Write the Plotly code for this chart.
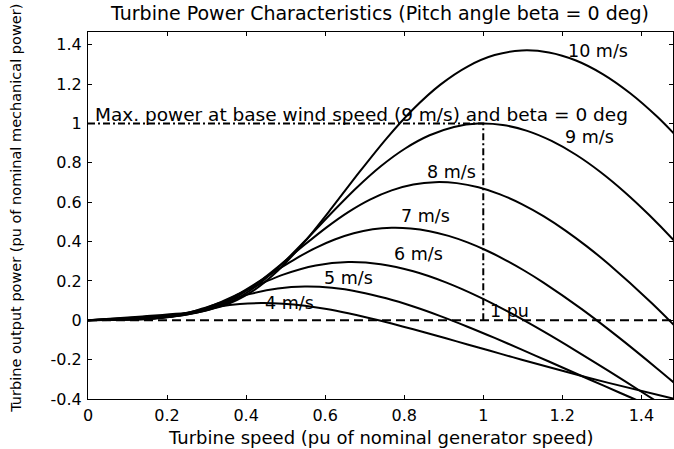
import plotly.graph_objects as go

# ---- data ----
wind_labels = ["10 m/s", "9 m/s", "8 m/s", "7 m/s", "6 m/s", "5 m/s", "4 m/s"]

speed_10 = [0, 0.1372, 0.2743, 0.3429, 0.4115, 0.4801, 0.5487, 0.6173, 0.6859, 0.7545, 0.8230,
            0.8916, 0.9602, 1.0288, 1.0974, 1.1660, 1.2346, 1.3032, 1.3717, 1.4403, 1.5089]
power_10 = [0, 0.0195, 0.0431, 0.0745, 0.1417, 0.2520, 0.4004, 0.5723, 0.7513, 0.9222, 1.0737,
            1.1977, 1.2896, 1.3477, 1.3711, 1.3613, 1.3204, 1.2502, 1.1539, 1.0339, 0.8930]

speed_9 = [0, 0.1235, 0.2469, 0.3086, 0.3704, 0.4321, 0.4938, 0.5556, 0.6173, 0.6790, 0.7407, 0.8025,
           0.8642, 0.9259, 0.9877, 1.0494, 1.1111, 1.1728, 1.2346, 1.2963, 1.3580, 1.4198, 1.4815, 1.6049]
power_9 = [0, 0.0142, 0.0314, 0.0543, 0.1033, 0.1837, 0.2919, 0.4172, 0.5477, 0.6723, 0.7827, 0.8731,
           0.9401, 0.9825, 0.9995, 0.9924, 0.9626, 0.9114, 0.8412, 0.7537, 0.6510, 0.5349, 0.4071, 0.1229]

speed_8 = [0, 0.1097, 0.2195, 0.2743, 0.3292, 0.3841, 0.4390, 0.4938, 0.5487, 0.6036, 0.6584, 0.7133,
           0.7682, 0.8230, 0.8779, 0.9328, 0.9877, 1.0425, 1.0974, 1.1523, 1.2071, 1.2620, 1.3169, 1.4266, 1.5363]
power_8 = [0, 0.0100, 0.0221, 0.0381, 0.0726, 0.1290, 0.2050, 0.2930, 0.3847, 0.4722, 0.5497, 0.6132,
           0.6603, 0.6900, 0.7020, 0.6970, 0.6761, 0.6401, 0.5908, 0.5294, 0.4572, 0.3757, 0.2859, 0.0863, -0.1336]

speed_7 = [0, 0.0960, 0.1920, 0.2401, 0.2881, 0.3361, 0.3841, 0.4321, 0.4801, 0.5281, 0.5761, 0.6241,
           0.6722, 0.7202, 0.7682, 0.8162, 0.8642, 0.9122, 0.9602, 1.0082, 1.0562, 1.1043, 1.1523, 1.2483,
           1.3443, 1.4403, 1.5364]
power_7 = [0, 0.0067, 0.0148, 0.0255, 0.0486, 0.0864, 0.1373, 0.1963, 0.2577, 0.3163, 0.3683, 0.4108,
           0.4423, 0.4623, 0.4703, 0.4669, 0.4529, 0.4288, 0.3958, 0.3546, 0.3063, 0.2517, 0.1915, 0.0578,
           -0.0895, -0.2462, -0.4088]

speed_6 = [0, 0.0823, 0.1646, 0.2058, 0.2469, 0.2881, 0.3292, 0.3704, 0.4115, 0.4938, 0.5761, 0.6584,
           0.7407, 0.8230, 0.9053, 0.9877, 1.0700, 1.1523, 1.2346, 1.3169, 1.3992, 1.4815]
power_6 = [0, 0.0042, 0.0093, 0.0161, 0.0306, 0.0544, 0.0865, 0.1236, 0.1623, 0.2319, 0.2786, 0.2961,
           0.2852, 0.2492, 0.1929, 0.1206, 0.0364, -0.0564, -0.1550, -0.2575, -0.3619, -0.4672]

speed_5 = [0, 0.0686, 0.1372, 0.1715, 0.2058, 0.2401, 0.2743, 0.3086, 0.3429, 0.4115, 0.4801, 0.5487,
           0.6173, 0.6859, 0.7545, 0.8230, 0.8916, 0.9602, 1.0288, 1.0974, 1.1660, 1.2346, 1.3031, 1.3717, 1.5089]
power_5 = [0, 0.0024, 0.0054, 0.0093, 0.0177, 0.0315, 0.0501, 0.0715, 0.0939, 0.1342, 0.1612, 0.1714,
           0.1651, 0.1442, 0.1116, 0.0698, 0.0211, -0.0326, -0.0897, -0.1490, -0.2095, -0.2704, -0.3311,
           -0.3913, -0.5087]

speed_4 = [0, 0.0549, 0.1097, 0.1372, 0.1646, 0.1920, 0.2195, 0.2469, 0.2743, 0.3292, 0.3841, 0.4390,
           0.4938, 0.5487, 0.6036, 0.6584, 0.7133, 0.7682, 0.8230, 0.8779, 0.9328, 0.9877, 1.0425, 1.0974,
           1.2071, 1.3169, 1.4815]
power_4 = [0, 0.0012, 0.0028, 0.0048, 0.0091, 0.0161, 0.0256, 0.0366, 0.0481, 0.0687, 0.0825, 0.0877,
           0.0845, 0.0739, 0.0572, 0.0357, 0.0108, -0.0167, -0.0459, -0.0763, -0.1072, -0.1384, -0.1695,
           -0.2004, -0.2605, -0.3180, -0.3986]

# label anchor points (speed, power)
label_speed = [1.290, 1.269, 0.920, 0.853, 0.835, 0.660, 0.510]
label_power = [1.367, 0.930, 0.752, 0.528, 0.335, 0.213, 0.086]

# reference lines: base speed 1 pu, max power at base wind 1 pu
base_speed = 1.0
base_power = 1.0
zero_power = 0.0

x_tickvals = [0, 0.2, 0.4, 0.6, 0.8, 1.0, 1.2, 1.4]
x_ticktext = ["0", "0.2", "0.4", "0.6", "0.8", "1", "1.2", "1.4"]
y_tickvals = [-0.4, -0.2, 0, 0.2, 0.4, 0.6, 0.8, 1.0, 1.2, 1.4]
y_ticktext = ["-0.4", "-0.2", "0", "0.2", "0.4", "0.6", "0.8", "1", "1.2", "1.4"]

x_range = [0, 1.48]
y_range = [-0.4, 1.465]

FONT = "DejaVu Sans"
curves = [(speed_10, power_10), (speed_9, power_9), (speed_8, power_8), (speed_7, power_7),
          (speed_6, power_6), (speed_5, power_5), (speed_4, power_4)]

fig = go.Figure()

# zero line (dashed)
fig.add_trace(go.Scatter(x=[x_range[0], x_range[1]], y=[zero_power, zero_power], mode="lines",
                         line=dict(color="black", width=2, dash="9px,5px"), hoverinfo="skip"))
# max power dash-dot lines
fig.add_trace(go.Scatter(x=[x_range[0], base_speed, base_speed], y=[base_power, base_power, zero_power],
                         mode="lines", line=dict(color="black", width=2, dash="7px,3px,2px,3px"),
                         hoverinfo="skip"))

for (xs, ys), name in zip(curves, wind_labels):
    fig.add_trace(go.Scatter(x=xs, y=ys, mode="lines", name=name,
                             line=dict(color="black", width=2, shape="spline", smoothing=0.8)))

annotations = []
for lx, ly, txt in zip(label_speed, label_power, wind_labels):
    annotations.append(dict(x=lx, y=ly, xref="x", yref="y", text=txt, showarrow=False,
                            font=dict(family=FONT, size=17.5, color="black"),
                            xanchor="center", yanchor="middle"))

annotations.append(dict(x=0.012, y=1.046, xref="x", yref="y",
                        text="Max. power at base wind speed (9 m/s) and beta = 0 deg",
                        showarrow=False, font=dict(family=FONT, size=18.5, color="black"),
                        xanchor="left", yanchor="middle"))
annotations.append(dict(x=1.013, y=0.048, xref="x", yref="y", text="1 pu", showarrow=False,
                        font=dict(family=FONT, size=17.5, color="black"), xanchor="left", yanchor="middle"))

# title and axis titles
annotations.append(dict(x=0.499, y=1.052, xref="paper", yref="paper",
                        text="Turbine Power Characteristics (Pitch angle beta = 0 deg)", showarrow=False,
                        font=dict(family=FONT, size=19, color="black"), xanchor="center", yanchor="middle"))
annotations.append(dict(x=0.501, y=-0.104, xref="paper", yref="paper",
                        text="Turbine speed (pu of nominal generator speed)", showarrow=False,
                        font=dict(family=FONT, size=18, color="black"), xanchor="center", yanchor="middle"))
annotations.append(dict(x=-0.122, y=0.52, xref="paper", yref="paper",
                        text="Turbine output power (pu of nominal mechanical power)", showarrow=False,
                        textangle=-90, font=dict(family=FONT, size=14.5, color="black"),
                        xanchor="center", yanchor="middle"))

axis_common = dict(showgrid=False, zeroline=False, showline=True, linecolor="black", linewidth=1,
                   mirror="ticks", ticks="inside", ticklen=4, tickwidth=1, tickcolor="black",
                   tickfont=dict(family=FONT, size=16, color="black"))

fig.update_layout(
    width=674, height=449,
    margin=dict(l=88, r=1, t=32, b=50),
    paper_bgcolor="white", plot_bgcolor="white",
    showlegend=False,
    font=dict(family=FONT, color="black"),
    xaxis=dict(range=x_range, tickvals=x_tickvals, ticktext=x_ticktext, ticklabelstandoff=2, **axis_common),
    yaxis=dict(range=y_range, tickvals=y_tickvals, ticktext=y_ticktext, ticklabelstandoff=2, **axis_common),
    annotations=annotations,
)

fig.write_html("out.html")
